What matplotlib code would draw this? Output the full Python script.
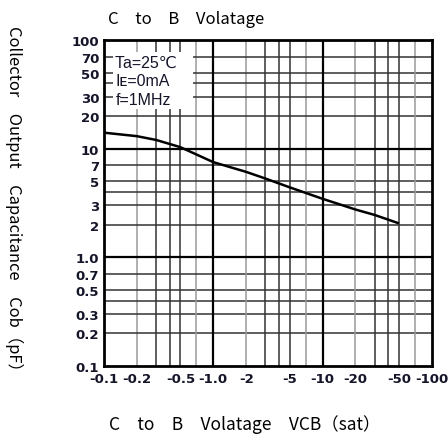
import matplotlib.pyplot as plt

# curve: |VCB| (V) vs Cob (pF)
vcb = [0.1, 0.2, 0.3, 0.5, 1.0, 2.0, 3.0, 5.0, 10.0, 20.0, 30.0, 50.0]
cob = [14.0, 13.0, 12.0, 10.3, 7.5, 6.1, 5.3, 4.4, 3.45, 2.75, 2.45, 2.05]

x_ticks = [0.1, 0.2, 0.5, 1.0, 2, 5, 10, 20, 50, 100]
x_labels = ["-0.1", "-0.2", "-0.5", "-1.0", "-2", "-5", "-10", "-20", "-50", "-100"]
y_ticks = [0.1, 0.2, 0.3, 0.5, 0.7, 1.0, 2, 3, 5, 7, 10, 20, 30, 50, 70, 100]
y_labels = ["0.1", "0.2", "0.3", "0.5", "0.7", "1.0", "2", "3", "5", "7",
            "10", "20", "30", "50", "70", "100"]

decades = [0.1, 1, 10, 100]
minor_steps = [2, 3, 4, 5, 7]
light_steps = [2, 7]

JP = ["Noto Sans CJK JP", "DejaVu Sans"]
SANS = ["Liberation Sans", "DejaVu Sans"]
TEXT_COL = "#15152a"

fig = plt.figure(figsize=(4.48, 4.39), dpi=100)
ax = fig.add_axes([0.232, 0.164, 0.732, 0.743])
ax.set_xscale("log")
ax.set_yscale("log")
ax.set_xlim(0.1, 100)
ax.set_ylim(0.1, 100)

# grid, drawn by hand so the 2 and 7 verticals can be lighter
for d in decades[:-1]:
    for s in minor_steps:
        v = d * s
        col = "#9a9a9a" if s in light_steps else "#333333"
        ax.axvline(v, color=col, lw=1.1, zorder=1)
        ax.axhline(v, color="#333333", lw=1.1, zorder=1)
for d in decades[1:-1]:
    ax.axvline(d, color="black", lw=1.6, zorder=1)
    ax.axhline(d, color="black", lw=1.6, zorder=1)

ax.plot(vcb, cob, color="black", lw=1.8, zorder=3, solid_capstyle="butt")

for sp in ax.spines.values():
    sp.set_linewidth(2.0)
    sp.set_zorder(5)

ax.minorticks_off()
ax.set_xticks(x_ticks, x_labels)
ax.set_yticks(y_ticks, y_labels)
ax.tick_params(length=0, colors=TEXT_COL)
ax.tick_params(axis="x", pad=4.5)
ax.tick_params(axis="y", pad=3.5)
for lab in ax.get_xticklabels() + ax.get_yticklabels():
    lab.set_fontfamily("DejaVu Sans")
    lab.set_fontweight("bold")
    lab.set_fontsize(9.5)

ax.text(0.035, 0.955, "Ta=25℃   \nIᴇ=0mA\nf=1MHz", transform=ax.transAxes,
        ha="left", va="top", fontsize=11.5, family=SANS, color=TEXT_COL,
        linespacing=1.3, zorder=4,
        bbox=dict(facecolor="white", edgecolor="none", pad=1.5))

fig.text(0.241, 0.955, "C\u3000to\u3000B\u3000Volatage", family=JP,
         fontsize=12, ha="left", va="center")
fig.text(0.547, 0.032, "C\u3000to\u3000B\u3000Volatage\u3000VCB（sat）",
         family=JP, fontsize=12.5, ha="center", va="center")
fig.text(0.031, 0.538, "Collector\u3000Output\u3000Capacitance\u3000Cob（pF）",
         family=JP, fontsize=11.9, ha="center", va="center", rotation=270)

fig.savefig("out.png", dpi=100)
